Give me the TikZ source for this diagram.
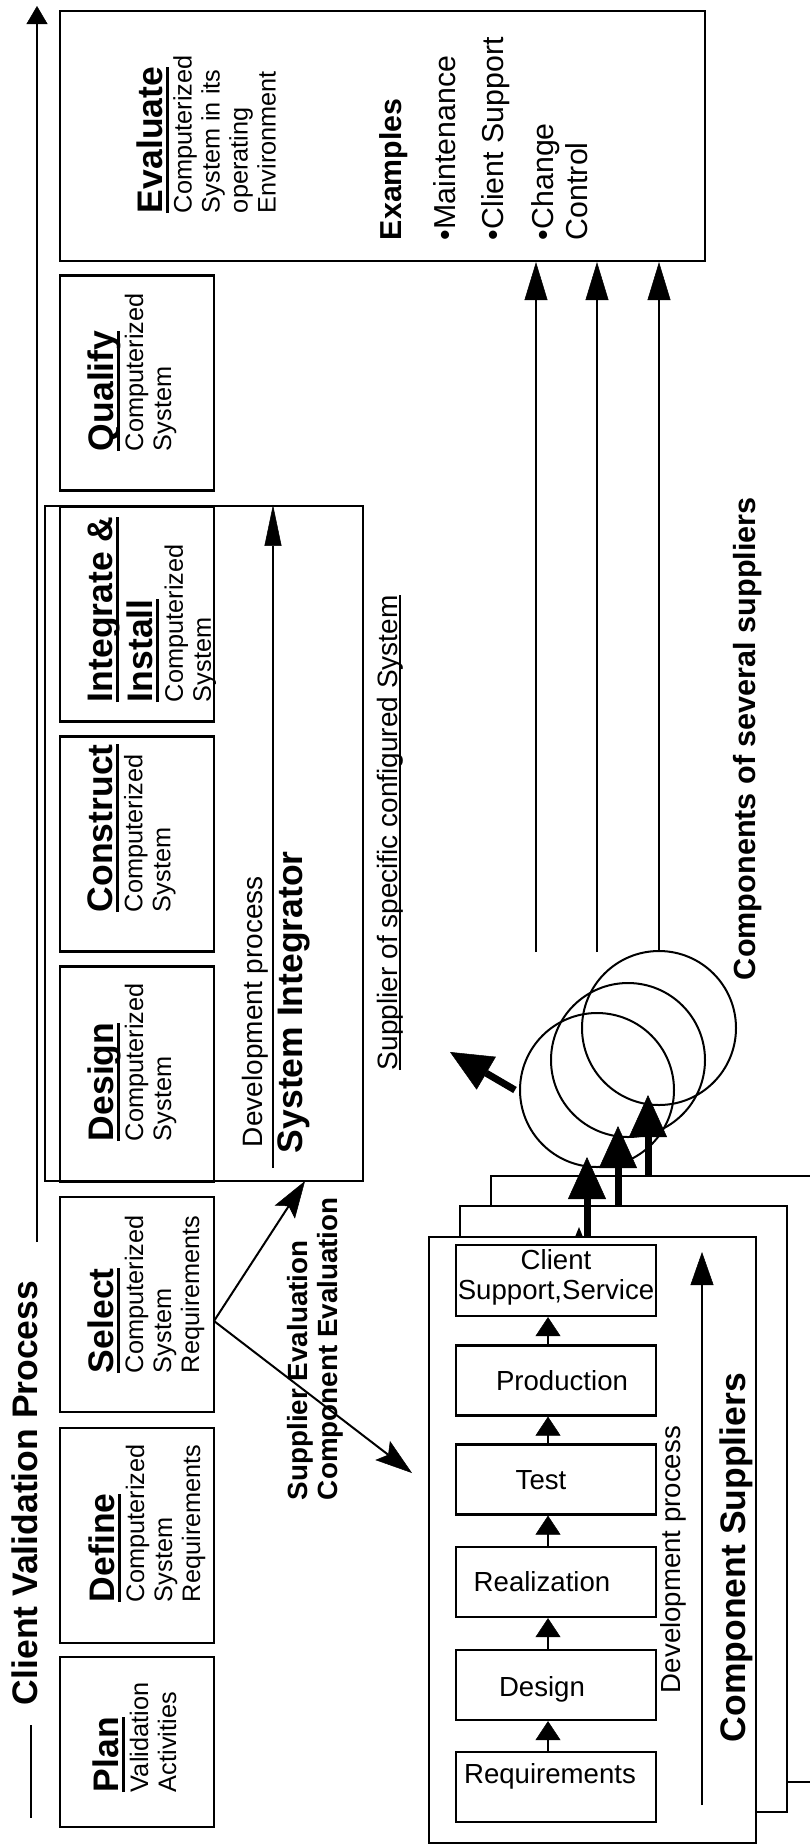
\documentclass[tikz,border=0pt]{standalone}
\usepackage{fontspec}
\setmainfont{Liberation Sans}
\usetikzlibrary{arrows.meta}

% type sizes (1pt = one unit of the drawing)
\newcommand\dgTitle{\fontsize{35.5}{39}\selectfont\bfseries}
\newcommand\dgSub{\fontsize{25.3}{28}\selectfont\mdseries}
\newcommand\dgMid{\fontsize{28}{30}\selectfont}
\newcommand\dgEx{\fontsize{30.3}{34}\selectfont}
\newcommand\dgProc{\fontsize{27.6}{30}\selectfont}
\newcommand\dgEval{\fontsize{27.8}{30}\selectfont\bfseries}
\newcommand\dgComp{\fontsize{30.6}{34}\selectfont\bfseries}
% heavy underline for the phase names, light one for the supplier note
\newcommand\thickul[1]{\setbox0=\hbox{#1}\rlap{\rule[-6.5pt]{\wd0}{3pt}}\box0}
\newcommand\thinul[1]{\setbox0=\hbox{#1}\rlap{\rule[-4pt]{\wd0}{1.8pt}}\box0}
% phase name line (bold, underlined)
\newcommand\phasename[1]{{\dgTitle\thickul{#1}}}

\begin{document}
\begin{tikzpicture}[x=1pt,y=-1pt,
  phase/.style={draw, line width=2.2pt, minimum width=154pt, minimum height=215pt, inner sep=0pt},
  frame/.style={draw, line width=2.2pt, inner sep=0pt},
  sup/.style={draw, line width=2.2pt, fill=white, minimum width=327pt, minimum height=606pt, inner sep=0pt},
  proc/.style={draw, line width=2.2pt, minimum width=200pt, minimum height=70pt, inner sep=0pt},
  comp/.style={circle, draw, line width=2pt, minimum size=154pt, inner sep=0pt},
  rtext/.style={rotate=90, anchor=north west, inner sep=0pt, outer sep=0pt, align=left},
  phtext/.style={rtext, font=\dgSub},
  ptext/.style={inner sep=0pt, outer sep=0pt, font=\dgProc, align=center},
  arr/.style={line width=2pt, -{Triangle[length=38pt,width=23pt,line width=0.5pt]}},
  stepar/.style={line width=2pt, -{Triangle[length=19pt,width=25pt,line width=0.5pt]}},
  fat/.style={line width=7pt, -{Triangle[length=42pt,width=38pt,line width=0.5pt]}},
  forkar/.style={line width=2pt, -{Stealth[length=37pt,width=24pt,inset=7pt,line width=0.5pt]}}]

\useasboundingbox[fill=white] (0,0) rectangle (809,1848);

% ---------- component suppliers (stacked, back to front) ----------
\node[sup] (back)  at (654.5,1479) {};
\node[sup] (mid)   at (623.5,1509) {};
\node[sup] (front) at (592.5,1540) {};
\fill (575,1237) -- (579,1227) -- (583,1237) -- cycle;

% ---------- client validation phases ----------
\node[frame, minimum width=318pt, minimum height=675pt] (si) at (204,843.5) {};
\node[phase, minimum height=170pt] (plan) at (137,1742) {};
\node[phase] (define)    at (137,1535.5) {};
\node[phase] (select)    at (137,1304.5) {};
\node[phase] (design)    at (137,1074) {};
\node[phase] (construct) at (137,844) {};
\node[phase] (integrate) at (137,614) {};
\node[phase] (qualify)   at (137,383) {};
\node[frame, minimum width=645pt, minimum height=250pt] (eval) at (382.5,136) {};

\node[phtext] (plantxt) at (93,1792) {\phasename{Plan}\\[1.5pt]Validation\\Activities};
\node[phtext] (definetxt) at (89,1602) {\phasename{Define}\\[1.5pt]Computerized\\System\\Requirements};
\node[phtext] (selecttxt) at (88,1373) {\phasename{Select}\\[1.5pt]Computerized\\System\\Requirements};
\node[phtext] (designtxt) at (88,1141) {\phasename{Design}\\[1.5pt]Computerized\\System};
\node[phtext] (constructtxt) at (88,912) {\phasename{Construct}\\[1.5pt]Computerized\\System};
\node[phtext] (integratetxt) at (88,702) {\phasename{Integrate \&}\\[6pt]\phasename{Install}\\[2pt]Computerized\\System};
\node[phtext] (qualifytxt) at (88,451) {\phasename{Qualify}\\[1.5pt]Computerized\\System};
\node[phtext] (evaltxt) at (137,213) {\phasename{Evaluate}\\[1pt]Computerized\\System in its\\operating\\Environment};

\node[rtext, font=\dgEx\bfseries] (examples) at (380,240) {Examples};
\node[rtext, font=\dgEx] (ex1) at (434,240) {•Maintenance};
\node[rtext, font=\dgEx] (ex2) at (482,240) {•Client Support};
\node[rtext, font=\dgEx] (ex3) at (532,240) {•Change\\Control};

% overall client process axis
\node[rtext, font=\dgTitle] (cvp) at (12,1705) {Client Validation Process};
\coordinate (axisfoot) at (37,1242);
\coordinate (axishead) at (37,6);
\draw[line width=2pt, -{Triangle[length=18pt,width=21pt,line width=0.5pt]}] (axisfoot) -- (axishead);
\coordinate (tail1) at (31,1725);
\coordinate (tail2) at (31,1818);
\draw[line width=2pt] (tail1) -- (tail2);

% ---------- system integrator ----------
\node[rtext, font=\dgMid] (sidev) at (242,1147) {Development process};
\node[rtext, font=\dgTitle] (sitxt) at (278,1153) {System Integrator};
\coordinate (sistart) at (273,1168);
\draw[line width=2pt, -{Triangle[length=41pt,width=17pt,line width=0.5pt]}] (sistart) -- (sistart |- si.north);
\node[rtext, font=\dgMid] (sinote) at (377,1070) {\thinul{Supplier of specific configured System}};

% ---------- evaluation of suppliers ----------
\coordinate (fork) at (214,1321);
\coordinate (siin) at (305,1181);
\coordinate (supin) at (412,1473);
\draw[forkar] (fork) -- (siin);
\draw[forkar] (fork) -- (supin);
\node[rtext, font=\dgEval] (evtxt) at (287,1500) {Supplier Evaluation\\Component Evaluation};

% ---------- component supplier process ----------
\node[proc, minimum height=71pt] (css) at (556,1280.5) {};
\node[proc] (prod) at (556,1380.5) {};
\node[proc] (test) at (556,1479.5) {};
\node[proc] (real) at (556,1582) {};
\node[proc] (cdes) at (556,1685) {};
\node[proc] (req)  at (556,1787) {};

\node[ptext, anchor=north] (csst) at (556,1249) {Client\\Support,Service};
\node[ptext, anchor=base] (prodt) at (562,1390) {Production};
\node[ptext, anchor=base] (testt) at (541,1489) {Test};
\node[ptext, anchor=base] (realt) at (542,1591) {Realization};
\node[ptext, anchor=base] (cdest) at (542,1696) {Design};
\node[ptext, anchor=base] (reqt)  at (550,1783) {Requirements};

\draw[stepar] ([xshift=-8pt]req.north)  -- ([xshift=-8pt]cdes.south);
\draw[stepar] ([xshift=-8pt]cdes.north) -- ([xshift=-8pt]real.south);
\draw[stepar] ([xshift=-8pt]real.north) -- ([xshift=-8pt]test.south);
\draw[stepar] ([xshift=-8pt]test.north) -- ([xshift=-8pt]prod.south);
\draw[stepar] ([xshift=-8pt]prod.north) -- ([xshift=-8pt]css.south);

\node[rtext, font=\dgProc] (supdev) at (660,1693) {Development process};
\coordinate (supstart) at (702,1805);
\coordinate (supend) at (702,1252);
\draw[line width=2pt, -{Triangle[length=33pt,width=23pt,line width=0.5pt]}] (supstart) -- (supend);
\node[rtext, font=\dgTitle] (suptxt) at (720,1742) {Component Suppliers};

% ---------- components of several suppliers ----------
\node[comp] (c1) at (597,1090) {};
\node[comp] (c2) at (628,1060) {};
\node[comp] (c3) at (659,1028) {};

\coordinate (tipA) at (587,1157);
\coordinate (tipB) at (618,1126);
\coordinate (tipC) at (648,1095);
\draw[fat] (front.north -| tipA) -- (tipA);
\draw[fat] (mid.north -| tipB) -- (tipB);
\draw[fat] (back.north -| tipC) -- (tipC);

\coordinate (outfoot) at (515,1090);
\coordinate (outtip) at (450,1052);
\draw[fat] (outfoot) -- (outtip);

\node[rtext, font=\dgComp] (comptxt) at (733,980) {Components of several suppliers};

\coordinate (e1) at (536,952);
\coordinate (e2) at (597,952);
\draw[arr] (e1) -- (e1 |- eval.south);
\draw[arr] (e2) -- (e2 |- eval.south);
\draw[arr] (c3.north) -- (c3.north |- eval.south);

\end{tikzpicture}
\end{document}
